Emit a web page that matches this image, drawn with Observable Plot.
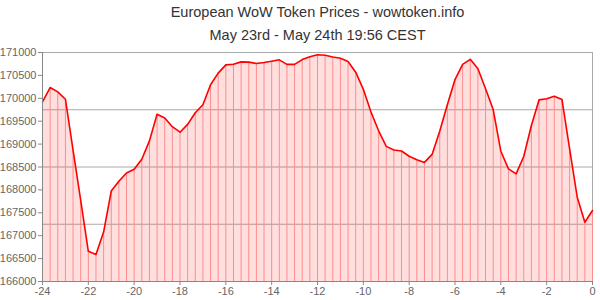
<!DOCTYPE html>
<html>
<head>
<meta charset="utf-8">
<script src="https://cdn.jsdelivr.net/npm/d3@7"></script>
<script src="https://cdn.jsdelivr.net/npm/@observablehq/plot@0.6"></script>
<style>
  html, body { margin: 0; padding: 0; background: #fff; }
</style>
</head>
<body>
<div id="chart"></div>
<script>
const titleText = "European WoW Token Prices - wowtoken.info";
const subtitleText = "May 23rd - May 24th 19:56 CEST";

// Hours before now, one sample every 20 minutes
const stepMinutes = 20;
const prices = [
  169920, 170235, 170140, 169980, 168870, 167770, 166660, 166590, 167080, 167975,
  168190, 168370, 168450, 168670, 169070, 169650, 169570, 169380, 169260, 169430,
  169685, 169860, 170295, 170550, 170730, 170745, 170795, 170790, 170760, 170780,
  170810, 170840, 170740, 170740, 170845, 170905, 170950, 170940, 170900, 170875,
  170805, 170570, 170195, 169700, 169290, 168950, 168870, 168850, 168735, 168660,
  168600, 168775, 169280, 169860, 170410, 170740, 170850, 170645, 170210, 169755,
  168845, 168460, 168350, 168730, 169405, 169965, 169990, 170045, 169975, 168900,
  167840, 167295, 167550
];
const xTicks = [-24, -22, -20, -18, -16, -14, -12, -10, -8, -6, -4, -2, 0];
const yTicks = [166000, 166500, 167000, 167500, 168000, 168500, 169000, 169500, 170000, 170500, 171000];
const gridLines = [169750, 168500, 167250];

const data = prices.map((p, i) => ({h: -24 + i * stepMinutes / 60, p}));
const base = yTicks[0];
const top_ = yTicks[yTicks.length - 1];

const chart = Plot.plot({
  width: 600,
  height: 300,
  marginLeft: 42,
  marginRight: 8,
  marginTop: 52,
  marginBottom: 19,
  style: {fontFamily: "'Liberation Sans', Arial, sans-serif", fontSize: "11px", color: "#666", background: "#fff"},
  x: {domain: [xTicks[0], xTicks[xTicks.length - 1]], label: null},
  y: {domain: [base, top_], label: null},
  marks: [
    Plot.ruleY(gridLines, {stroke: "#aaa", strokeWidth: 1}),
    Plot.ruleY([top_], {stroke: "#aaa", strokeWidth: 1}),
    Plot.ruleX([xTicks[xTicks.length - 1]], {stroke: "#aaa", strokeWidth: 1}),
    Plot.areaY(data, {x: "h", y1: base, y2: "p", fill: "red", fillOpacity: 0.13, curve: "linear"}),
    Plot.ruleX(data, {x: "h", y1: base, y2: "p", stroke: "#ff8c8c", strokeWidth: 1}),
    Plot.lineY(data, {x: "h", y: "p", stroke: "red", strokeWidth: 1.6}),
    Plot.axisX({ticks: xTicks, tickSize: 4, tickPadding: 2, tickFormat: d => String(d), stroke: "#888", fill: "#666", label: null, fontSize: 11}),
    Plot.axisY({ticks: yTicks, tickSize: 4, tickPadding: 2, tickFormat: d => String(d), stroke: "#888", fill: "#666", label: null, fontSize: 11}),
    Plot.ruleY([base], {stroke: "#888"}),
    Plot.ruleX([xTicks[0]], {stroke: "#888"}),
    Plot.text([titleText], {frameAnchor: "top", dy: -40, lineAnchor: "middle", fontSize: 14.5, fill: "#333"}),
    Plot.text([subtitleText], {frameAnchor: "top", dy: -17, lineAnchor: "middle", fontSize: 14.5, fill: "#333"})
  ]
});
document.getElementById("chart").appendChild(chart);
</script>
</body>
</html>
